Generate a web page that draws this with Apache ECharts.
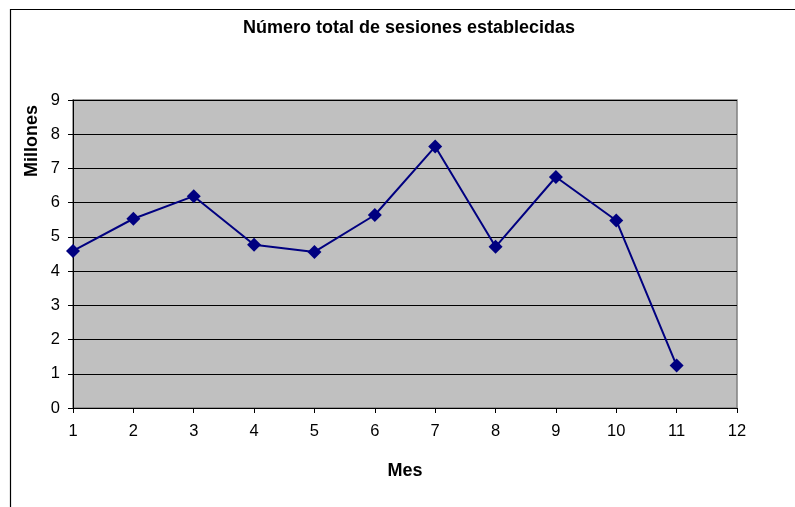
<!DOCTYPE html>
<html>
<head>
<meta charset="utf-8">
<script src="https://cdn.jsdelivr.net/npm/echarts@6/dist/echarts.min.js"></script>
<style>html,body{margin:0;padding:0;background:#fff}#c{width:795px;height:507px}</style>
</head>
<body>
<div id="c"></div>
<script>
const months = [1, 2, 3, 4, 5, 6, 7, 8, 9, 10, 11];
const sessions = [4.59, 5.53, 6.19, 4.77, 4.56, 5.64, 7.64, 4.71, 6.75, 5.48, 1.24];
const titleText = 'Número total de sesiones establecidas';
const xName = 'Mes';
const yName = 'Millones';

const chart = echarts.init(document.getElementById('c'), null, {renderer: 'canvas'});
const font = 'Arial, "Liberation Sans", sans-serif';
chart.setOption({
  animation: false,
  backgroundColor: '#fff',
  graphic: [
    {type: 'rect', shape: {x: 10.5, y: 9.5, width: 800, height: 520}, style: {fill: 'none', stroke: '#000', lineWidth: 1.2}, z: 100},
    {type: 'text', x: 409, y: 28, style: {text: titleText, font: 'bold 18px ' + font, fill: '#000', textAlign: 'center', textVerticalAlign: 'middle'}},
    {type: 'text', x: 32, y: 141, rotation: Math.PI / 2, style: {text: yName, font: 'bold 18px ' + font, fill: '#000', textAlign: 'center', textVerticalAlign: 'middle'}},
    {type: 'text', x: 405, y: 471, style: {text: xName, font: 'bold 18px ' + font, fill: '#000', textAlign: 'center', textVerticalAlign: 'middle'}}
  ],
  grid: {left: 73, right: 58, top: 100, bottom: 99, show: true, backgroundColor: '#C0C0C0', borderColor: '#808080', borderWidth: 1.5},
  xAxis: {
    type: 'value', min: 1, max: 12, interval: 1,
    axisLine: {show: true, lineStyle: {color: '#000', width: 1}},
    axisTick: {show: true, length: 5, lineStyle: {color: '#000'}},
    axisLabel: {color: '#000', fontSize: 16.5, fontFamily: font, margin: 15},
    splitLine: {show: false}
  },
  yAxis: {
    type: 'value', min: 0, max: 9, interval: 1,
    axisLine: {show: true, lineStyle: {color: '#000', width: 1}},
    axisTick: {show: true, length: 5, lineStyle: {color: '#000'}},
    axisLabel: {color: '#000', fontSize: 16.5, fontFamily: font, margin: 13},
    splitLine: {show: true, lineStyle: {color: '#000', width: 1}}
  },
  series: [{
    type: 'line',
    data: months.map((m, i) => [m, sessions[i]]),
    symbol: 'diamond', symbolSize: 14,
    lineStyle: {color: '#000080', width: 2},
    itemStyle: {color: '#000080'}
  }]
});
</script>
</body>
</html>
